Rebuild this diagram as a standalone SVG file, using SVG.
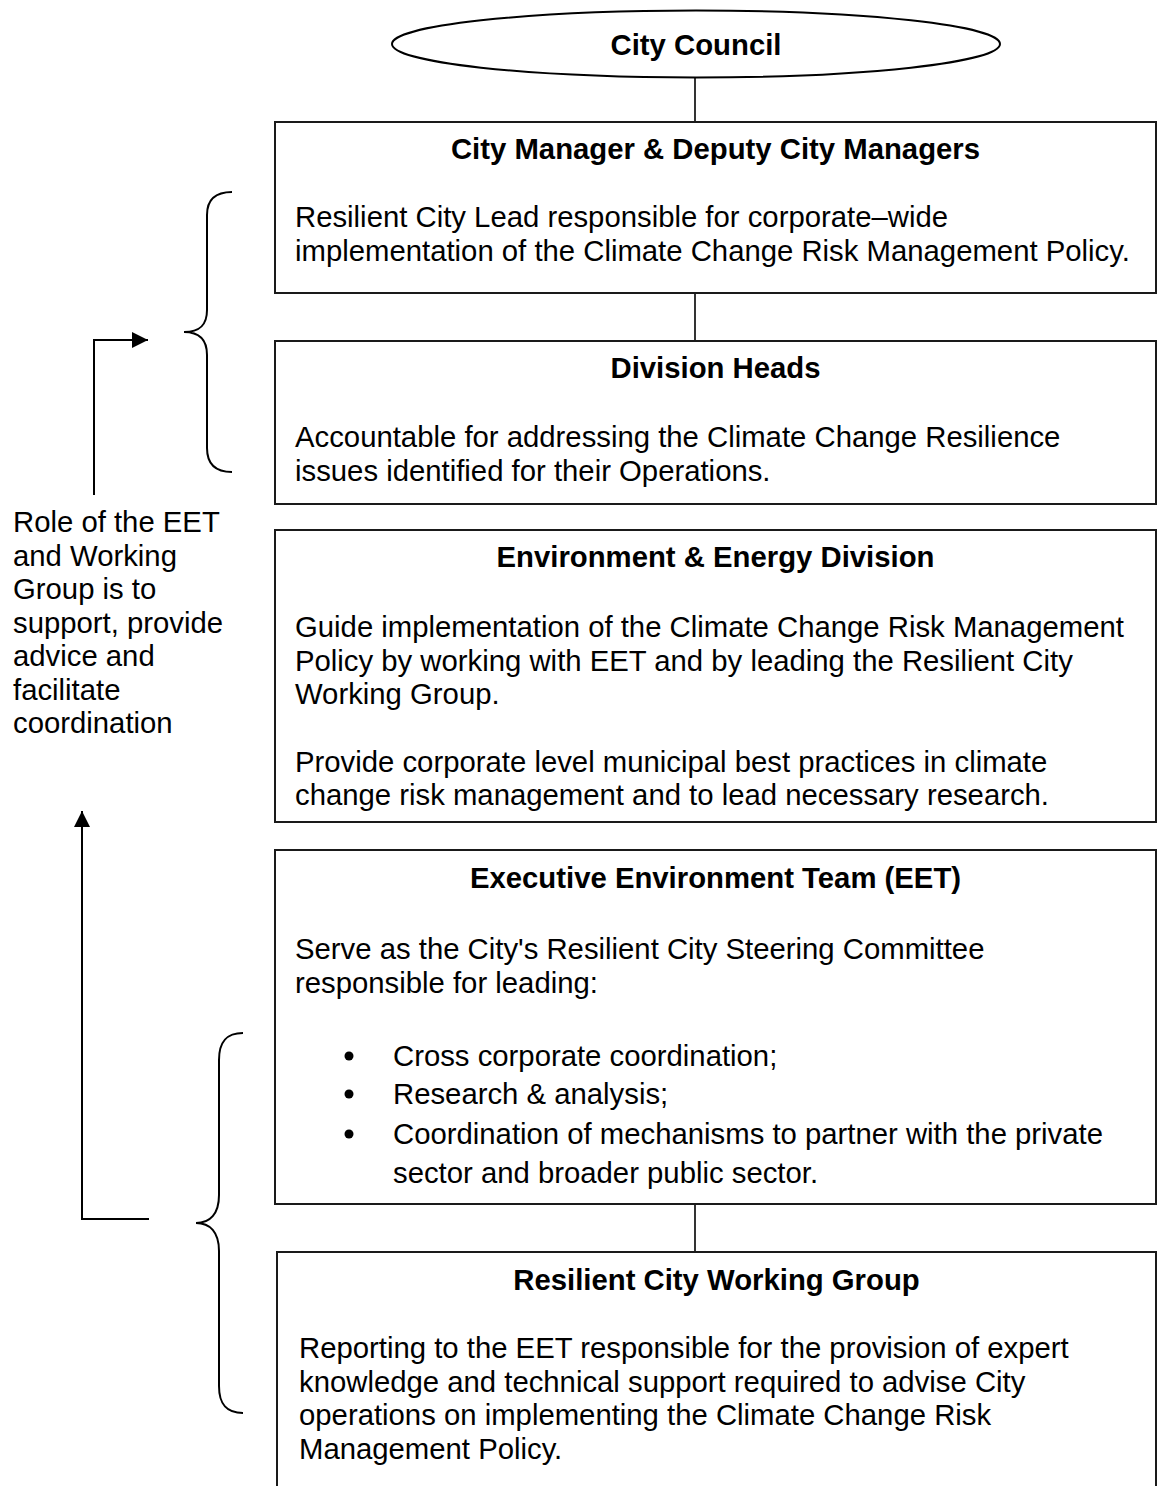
<svg xmlns="http://www.w3.org/2000/svg" width="1158" height="1486" viewBox="0 0 1158 1486">
<style>
text{font-family:"Liberation Sans",Arial,sans-serif;font-size:29.3px;fill:#000}
.t{font-weight:bold;text-anchor:middle}
.box{fill:#fff;stroke:#1a1a1a;stroke-width:2}
.ln{fill:none;stroke:#000;stroke-width:1.6}
.br{fill:none;stroke:#000;stroke-width:2}
</style>
<defs>
<marker id="ah" markerUnits="userSpaceOnUse" markerWidth="17" markerHeight="17" refX="16" refY="8" orient="auto">
<path d="M0,0 L16,8 L0,16 z" fill="#000"/>
</marker>
</defs>
<rect width="1158" height="1486" fill="#fff"/>
<g id="connectors">
<line class="ln" x1="695" y1="77" x2="695" y2="122"/>
<line class="ln" x1="695" y1="293" x2="695" y2="341"/>
<line class="ln" x1="695" y1="1204" x2="695" y2="1252"/>
<path class="br" d="M94,495 L94,340 L148,340" marker-end="url(#ah)"/>
<path class="br" d="M149,1219 L82,1219 L82,811" marker-end="url(#ah)"/>
<path class="br" d="M232,192 C215,192 207,200 207,215 L207,310 C207,325 200,332 184,332 C200,332 207,340 207,355 L207,448 C207,463 215,472 232,472"/>
<path class="br" d="M243,1033 C226,1033 219,1042 219,1060 L219,1195 C219,1214 210,1223 196,1223 C210,1223 219,1232 219,1251 L219,1386 C219,1404 226,1413 243,1413"/>
</g>
<g id="city-council">
<ellipse cx="696" cy="44" rx="304" ry="33.5" fill="#fff" stroke="#000" stroke-width="2"/>
<text class="t" x="696" y="55">City Council</text>
</g>
<g id="city-manager">
<rect class="box" x="275" y="122" width="881" height="171"/>
<text class="t" x="715.5" y="159">City Manager &amp; Deputy City Managers</text>
<text x="295" y="227">Resilient City Lead responsible for corporate–wide</text>
<text x="295" y="261">implementation of the Climate Change Risk Management Policy.</text>
</g>
<g id="division-heads">
<rect class="box" x="275" y="341" width="881" height="163"/>
<text class="t" x="715.5" y="378">Division Heads</text>
<text x="295" y="447">Accountable for addressing the Climate Change Resilience</text>
<text x="295" y="481">issues identified for their Operations.</text>
</g>
<g id="environment-energy">
<rect class="box" x="275" y="530" width="881" height="292"/>
<text class="t" x="715.5" y="567">Environment &amp; Energy Division</text>
<text x="295" y="637">Guide implementation of the Climate Change Risk Management</text>
<text x="295" y="671">Policy by working with EET and by leading the Resilient City</text>
<text x="295" y="704">Working Group.</text>
<text x="295" y="772">Provide corporate level municipal best practices in climate</text>
<text x="295" y="805">change risk management and to lead necessary research.</text>
</g>
<g id="eet">
<rect class="box" x="275" y="850" width="881" height="354"/>
<text class="t" x="715.5" y="888">Executive Environment Team (EET)</text>
<text x="295" y="959">Serve as the City's Resilient City Steering Committee</text>
<text x="295" y="993">responsible for leading:</text>
<circle cx="349" cy="1056" r="4.5"/>
<text x="393" y="1066">Cross corporate coordination;</text>
<circle cx="349" cy="1094" r="4.5"/>
<text x="393" y="1104">Research &amp; analysis;</text>
<circle cx="349" cy="1134" r="4.5"/>
<text x="393" y="1144">Coordination of mechanisms to partner with the private</text>
<text x="393" y="1183">sector and broader public sector.</text>
</g>
<g id="working-group">
<rect class="box" x="277" y="1252" width="879" height="260"/>
<text class="t" x="716.5" y="1290">Resilient City Working Group</text>
<text x="299" y="1358">Reporting to the EET responsible for the provision of expert</text>
<text x="299" y="1392">knowledge and technical support required to advise City</text>
<text x="299" y="1425">operations on implementing the Climate Change Risk</text>
<text x="299" y="1459">Management Policy.</text>
</g>
<g id="role-note">
<text x="13" y="532">Role of the EET</text>
<text x="13" y="566">and Working</text>
<text x="13" y="599">Group is to</text>
<text x="13" y="633">support, provide</text>
<text x="13" y="666">advice and</text>
<text x="13" y="700">facilitate</text>
<text x="13" y="733">coordination</text>
</g>
</svg>
